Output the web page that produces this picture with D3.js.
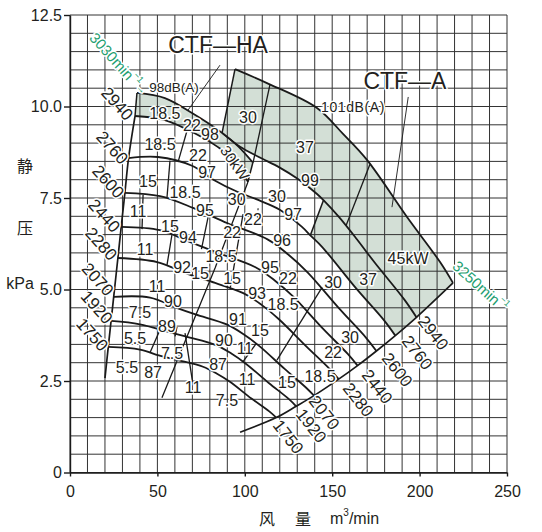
<!DOCTYPE html>
<html><head><meta charset="utf-8">
<script src="https://cdn.jsdelivr.net/npm/d3@7"></script>
<style>
body{margin:0;background:#fff;}
text{font-family:"Liberation Sans",Arial,Helvetica,sans-serif;fill:#231f20;}
.halo{stroke:#fff;stroke-width:3px;paint-order:stroke;stroke-linejoin:round;}
</style></head><body>
<svg id="c" width="542" height="532"></svg>
<script>
// ---------- data (flow m3/min, static pressure kPa) ----------
const xTicks=[0,50,100,150,200,250];
const yTicks=[0,2.5,5,7.5,10,12.5];
const yTickLabels=["0","2.5","5.0","7.5","10.0","12.5"];

// speed curves
const rpm3250=[[94.4,11.02],[112.7,10.64],[141.3,9.96],[156.2,9.25],[169.9,8.54],[192.8,6.98],[211.7,5.75],[219.1,5.18]];
const ha3030=[[38.3,10.37],[54.3,10.23],[69.8,9.82],[87.0,9.28],[96.1,8.92],[104.6,8.47]];
const ha2940=[[37.2,9.74],[54.3,9.63],[73.2,9.22],[84.7,8.89],[94.4,8.51],[101.8,7.94]];
const c2940=[[87.0,9.28],[97.3,8.90],[108,8.62],[120,8.33],[130,8.03],[141.3,7.61],[145.0,7.44],[153.7,6.99],[164.0,6.38],[174.4,5.73],[191.5,4.71],[198.2,4.24]];
const c2760=[[33.5,8.59],[50.3,8.62],[69.8,8.38],[82.0,8.00],[95.7,7.67],[108.0,7.44],[120.0,7.18],[132.7,6.71],[137.5,6.48],[144.3,6.16],[163.7,5.03],[179.8,4.15],[186.1,3.74]];
const c2600=[[31.4,7.64],[51.5,7.55],[70.4,7.23],[90.2,6.81],[113.0,6.37],[125.0,5.95],[135.9,5.47],[154.2,4.47],[169.4,3.68],[175.3,3.32]];
const c2440=[[29.3,6.71],[51.5,6.62],[67.0,6.33],[84.6,6.00],[106.1,5.61],[117.3,5.24],[127.6,4.81],[144.7,3.93],[158.9,3.24],[164.5,2.92]];
const c2280=[[27.4,5.86],[49.8,5.75],[66.2,5.45],[79.1,5.24],[99.1,4.90],[109.6,4.58],[119.2,4.20],[135.3,3.44],[148.5,2.83],[153.7,2.55]];
const c2070=[[25.0,4.80],[45.8,4.78],[61.0,4.50],[71.8,4.32],[90.0,4.04],[99.5,3.77],[108.2,3.46],[122.8,2.83],[134.8,2.33],[139.6,2.10]];
const c1920=[[23.5,4.14],[40.0,4.05],[55.8,3.85],[66.6,3.71],[83.5,3.48],[92.3,3.25],[100.4,2.98],[113.9,2.44],[125.1,2.01],[129.4,1.81]];
const c1750=[[21.9,3.43],[40.0,3.36],[50.8,3.20],[60.7,3.08],[76.1,2.89],[84.1,2.70],[91.5,2.48],[103.8,2.02],[114.0,1.67],[118.0,1.50]];

// boundaries
const leftEdge=[[20.0,2.58],[21.9,3.43],[23.5,4.14],[25.0,4.80],[27.4,5.86],[29.3,6.71],[31.4,7.64],[33.5,8.59],[37.2,9.74]];
const rightEdge=[[219.1,5.18],[198.2,4.24],[186.1,3.74],[175.3,3.32],[164.5,2.92],[153.7,2.55],[139.6,2.10],[129.4,1.81],[118.0,1.50],[97.3,1.10]];
const bandLeft=[[37.2,9.74],[38.3,10.37]];
const bandCap=[[104.6,8.47],[101.8,7.94]];
const aLeftEdge=[[94.4,11.02],[87.0,9.28]];
const kw37low=[[137.5,6.48],[145.0,7.44]];

// kW lines
const kwLines=[
 [[114.4,10.60],[104.7,8.46]],
 [[171.6,8.42],[157.9,6.74]],
 [[144.2,5.06],[118.4,3.07]],
 [[99.0,3.03],[106.5,3.52]],
 [[99.0,7.06],[91.7,5.05]],
 [[66.9,9.33],[61.8,8.48]],
 [[57.2,8.52],[55.5,7.52]],
 [[41.8,7.58],[41.2,6.65]],
 [[58.4,6.52],[55.5,5.67]],
 [[79.0,6.98],[75.2,6.10]],
 [[51.5,3.90],[45.8,3.28]],
 [[61.2,3.98],[60.1,3.72]],
 [[65.8,3.81],[70.4,2.39]],
 [[101.8,7.94],[83.0,5.59],[52.6,2.04]]
];
const kwDashed=[[[107.6,7.22],[107.0,6.76]]];
const leaders=[[[85.8,11.13],[67.5,9.90]],[[193.5,10.26],[184.2,7.25]]];

// labels on the chart [text, flow, pressure]
const cellLabels=[
 ["18.5",54.3,9.82],["22",69.8,9.49],["98",80.1,9.23],
 ["18.5",51.5,8.95],["22",73.2,8.67],["97",78.4,8.21],
 ["15",44.6,7.95],["18.5",65.8,7.66],["95",77.2,7.17],
 ["11",38.9,7.12],["15",57.2,6.71],["94",67.5,6.41],
 ["11",42.9,6.08],["92",64.1,5.61],["15",74.4,5.45],
 ["11",49.8,5.07],["90",58.9,4.66],
 ["7.5",40.0,4.36],["89",55.5,3.98],
 ["5.5",37.2,3.67],["7.5",58.4,3.26],
 ["5.5",32.6,2.86],["87",47.5,2.72],["11",70.4,2.31],
 ["30",101.8,9.71],["37",134.4,8.89],["99",137.3,7.99],
 ["30",118.4,7.55],["30",95.4,7.45],["97",127.6,7.06],
 ["22",104.7,6.90],["22",92.7,6.57],["96",121.3,6.35],
 ["18.5",86.4,5.89],["15",92.7,5.31],["95",114.4,5.61],["22",124.7,5.31],
 ["93",107.0,4.90],["18.5",121.9,4.58],["30",150.5,5.20],["37",170.5,5.26],
 ["91",96.1,4.17],["15",108.7,3.89],["30",160.2,3.70],["22",150.5,3.29],
 ["90",88.1,3.62],["11",100.1,3.40],["18.5",143.0,2.61],["15",124.1,2.45],
 ["11",101.3,2.53],["87",84.7,2.94],["7.5",89.8,1.98],
 ["45kW",193.4,5.86]
];
const speedLeft=[["2940",26.9,10.07],["2760",24.0,8.87],["2600",21.7,7.94],["2440",19.5,7.01],["2280",17.7,6.24],["2070",15.7,5.27],["1920",15.2,4.51],["1750",12.6,3.76]];
const speedRight=[["2940",207.7,3.81],["2760",198.5,3.27],["2600",187.1,2.80],["2440",175.6,2.34],["2280",164.8,1.98],["2070",145.3,1.63],["1920",137.9,1.27],["1750",124.7,0.97]];

// ---------- drawing ----------
const svg=d3.select("#c");
const x=d3.scaleLinear().domain([0,250]).range([70,507]);
const y=d3.scaleLinear().domain([0,12.5]).range([472.5,15]);
const line=d3.line().x(d=>x(d[0])).y(d=>y(d[1])).curve(d3.curveCatmullRom.alpha(0.5));
const straight=d3.line().x(d=>x(d[0])).y(d=>y(d[1]));
function joinPieces(pieces){return pieces.map((p,i)=>{const s=line(p);return i?s.replace(/^M/,"L"):s;}).join("")+"Z";}
const rev=a=>a.slice().reverse();

const shade="#d3dfd6";
svg.append("path").attr("fill",shade).attr("d",joinPieces([
  rpm3250,
  rightEdge.filter(d=>d[0]>=186.1),
  rev(c2760.filter(d=>d[0]>=137.5)),
  kw37low,
  rev(c2940.filter(d=>d[0]<=145.0)),
  rev(aLeftEdge)
]));
svg.append("path").attr("fill",shade).attr("d",joinPieces([ha3030,bandCap,rev(ha2940),bandLeft]));

// grid
const grid=svg.append("g").attr("stroke","#333").attr("stroke-width",1);
d3.range(0,251,10).forEach(v=>grid.append("line").attr("x1",x(v)).attr("x2",x(v)).attr("y1",y(0)).attr("y2",y(12.5)));
d3.range(0,12.51,0.5).forEach(v=>grid.append("line").attr("x1",x(0)).attr("x2",x(250)).attr("y1",y(v)).attr("y2",y(v)));

// axes
const gx=svg.append("g").attr("transform",`translate(0,${y(0)})`)
 .call(d3.axisBottom(x).tickValues(xTicks).tickSize(4).tickSizeOuter(0).tickPadding(9));
const gy=svg.append("g").attr("transform",`translate(${x(0)},0)`)
 .call(d3.axisLeft(y).tickValues(yTicks).tickFormat((d,i)=>yTickLabels[i]).tickSize(6).tickSizeOuter(0).tickPadding(2));
[gx,gy].forEach(g=>{g.selectAll("path,line").attr("stroke","#1a1a1a").attr("stroke-width",1.4);
 g.selectAll("text").attr("font-size",16).attr("font-family","Liberation Sans, Arial, sans-serif").attr("fill","#231f20");});

// curves
const curveG=svg.append("g").attr("fill","none").attr("stroke","#1a1a1a").attr("stroke-linejoin","round");
[rpm3250,ha3030,ha2940,c2940,c2760,c2600,c2440,c2280,c2070,c1920,c1750].forEach(c=>
  curveG.append("path").attr("d",line(c)).attr("stroke-width",1.8));
[leftEdge,rightEdge].forEach(c=>curveG.append("path").attr("d",line(c)).attr("stroke-width",1.7));
[bandLeft,bandCap,aLeftEdge,kw37low].forEach(c=>curveG.append("path").attr("d",straight(c)).attr("stroke-width",1.5));
kwLines.forEach(c=>curveG.append("path").attr("d",straight(c)).attr("stroke-width",1.3));
kwDashed.forEach(c=>curveG.append("path").attr("d",straight(c)).attr("stroke-width",1.1).attr("stroke-dasharray","2,2"));
leaders.forEach(c=>curveG.append("path").attr("d",straight(c)).attr("stroke-width",0.9));

// labels
const lab=svg.append("g");
cellLabels.forEach(([t,a,b])=>lab.append("text").attr("class","halo").attr("x",x(a)).attr("y",y(b))
  .attr("text-anchor","middle").attr("dominant-baseline","central").attr("font-size",16).text(t));
speedLeft.forEach(([t,a,b])=>lab.append("text").attr("class","halo")
  .attr("transform",`translate(${x(a)},${y(b)}) rotate(48)`).attr("text-anchor","middle")
  .attr("dominant-baseline","central").attr("font-size",17).text(t));
speedRight.forEach(([t,a,b])=>lab.append("text").attr("class","halo")
  .attr("transform",`translate(${x(a)},${y(b)}) rotate(52)`).attr("text-anchor","middle")
  .attr("dominant-baseline","central").attr("font-size",17).text(t));

// band label
lab.append("text").attr("class","halo").attr("transform",`translate(${x(94.4)},${y(8.46)}) rotate(55)`)
 .attr("text-anchor","middle").attr("dominant-baseline","central").attr("font-size",15).text("30kW");

// dB(A) labels
lab.append("text").attr("class","halo").attr("x",x(59.5)).attr("y",y(10.53)).attr("text-anchor","middle")
 .attr("dominant-baseline","central").attr("font-size",13.5).text("98dB(A)");
lab.append("text").attr("class","halo").attr("x",x(161.9)).attr("y",y(9.99)).attr("text-anchor","middle")
 .attr("dominant-baseline","central").attr("font-size",14).attr("letter-spacing",0.6).text("101dB(A)");

// model names
lab.append("text").attr("class","halo").attr("x",x(84.7)).attr("y",y(11.68)).attr("text-anchor","middle")
 .attr("dominant-baseline","central").attr("font-size",23).text("CTF—HA");
lab.append("text").attr("class","halo").attr("x",x(191.6)).attr("y",y(10.70)).attr("text-anchor","middle")
 .attr("dominant-baseline","central").attr("font-size",23).text("CTF—A");

// max speed labels (green)
const green="#1e9e70";
const t1=lab.append("text").attr("class","halo").attr("transform",`translate(${x(13.2)},${y(11.97)}) rotate(48)`)
 .attr("dominant-baseline","central").attr("font-size",15).style("fill",green);
t1.append("tspan").text("3030min");
t1.append("tspan").attr("dy",-5).attr("font-size",9).text("−1");
t1.append("tspan").attr("dy",5).attr("font-size",10).text("→");
const t2=lab.append("text").attr("class","halo").attr("transform",`translate(${x(220.5)},${y(5.72)}) rotate(42)`)
 .attr("dominant-baseline","central").attr("font-size",15).style("fill",green);
t2.append("tspan").text("3250min");
t2.append("tspan").attr("dy",-5).attr("font-size",9).text("−1");

// axis titles
const cjk="Noto Sans CJK SC, sans-serif";
svg.append("text").attr("x",267).attr("y",518).attr("text-anchor","middle").attr("dominant-baseline","central")
 .attr("font-size",16).style("font-family",cjk).text("风");
svg.append("text").attr("x",303).attr("y",518).attr("text-anchor","middle").attr("dominant-baseline","central")
 .attr("font-size",16).style("font-family",cjk).text("量");
const mt=svg.append("text").attr("x",330).attr("y",518).attr("dominant-baseline","central").attr("font-size",16);
mt.append("tspan").text("m");
mt.append("tspan").attr("dy",-6).attr("font-size",10).text("3");
mt.append("tspan").attr("dy",6).text("/min");
svg.append("text").attr("x",25).attr("y",165).attr("text-anchor","middle").attr("dominant-baseline","central")
 .attr("font-size",16).style("font-family",cjk).text("静");
svg.append("text").attr("x",25).attr("y",227).attr("text-anchor","middle").attr("dominant-baseline","central")
 .attr("font-size",16).style("font-family",cjk).text("压");
svg.append("text").attr("x",20).attr("y",283).attr("text-anchor","middle").attr("dominant-baseline","central")
 .attr("font-size",16).text("kPa");
</script>
</body></html>
